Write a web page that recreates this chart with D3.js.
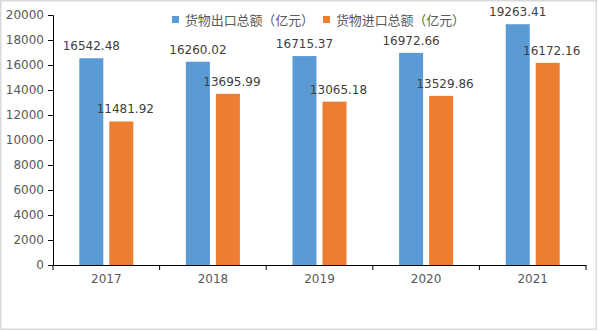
<!DOCTYPE html>
<html>
<head>
<meta charset="utf-8">
<style>
  body { margin: 0; background: #fff; }
  svg text { font-family: "DejaVu Sans", "Noto Sans CJK SC", sans-serif; }
  .axis .domain, .axis .tick line { stroke: #000; }
  .axis .tick text { fill: #595959; font-size: 12px; }
</style>
</head>
<body>
<div id="chart"></div>
<script src="https://d3js.org/d3.v7.min.js"></script>
<script>
var years = ["2017", "2018", "2019", "2020", "2021"];
var exportVals = [16542.48, 16260.02, 16715.37, 16972.66, 19263.41];
var importVals = [11481.92, 13695.99, 13065.18, 13529.86, 16172.16];
var seriesNames = ["货物出口总额（亿元）", "货物进口总额（亿元）"];
var colors = ["#5b9bd5", "#ed7d31"];
var yTicks = [0, 2000, 4000, 6000, 8000, 10000, 12000, 14000, 16000, 18000, 20000];

var W = 598, H = 331;
var svg = d3.select("#chart").append("svg").attr("width", W).attr("height", H);

// outer frame
svg.append("rect")
  .attr("x", 0.75).attr("y", 0.75).attr("width", 595.5).attr("height", 328.5)
  .attr("fill", "#fff").attr("stroke", "#d9d9d9").attr("stroke-width", 1.5);

var x0 = d3.scaleBand().domain(years).range([53, 586]);
var y = d3.scaleLinear().domain([0, 20000]).range([265, 15]);
var bw = x0.bandwidth();
var x1 = d3.scaleBand().domain([0, 1]).range([bw / 2 - 27, bw / 2 + 27]).paddingInner(0.2);

var data = years.map(function (yr, i) {
  return { year: yr, vals: [exportVals[i], importVals[i]] };
});

svg.append("g")
  .attr("class", "axis")
  .attr("transform", "translate(53,0)")
  .call(d3.axisLeft(y).tickValues(yTicks).tickSize(5).tickPadding(4).tickFormat(d3.format("d")));

var xAxis = svg.append("g")
  .attr("class", "axis")
  .attr("transform", "translate(0,265)")
  .call(d3.axisBottom(x0).tickSize(0).tickPadding(9));

// category boundary ticks
xAxis.selectAll(".bound")
  .data(d3.range(years.length + 1))
  .enter().append("line")
  .attr("x1", function (d) { return 53 + d * bw; })
  .attr("x2", function (d) { return 53 + d * bw; })
  .attr("y1", 0).attr("y2", 5)
  .attr("stroke", "#000");

var groups = svg.selectAll(".grp")
  .data(data)
  .enter().append("g")
  .attr("transform", function (d) { return "translate(" + x0(d.year) + ",0)"; });

groups.selectAll("rect")
  .data(function (d) { return d.vals.map(function (v, i) { return { v: v, s: i }; }); })
  .enter().append("rect")
  .attr("x", function (d) { return x1(d.s); })
  .attr("y", function (d) { return y(d.v); })
  .attr("width", x1.bandwidth())
  .attr("height", function (d) { return 265 - y(d.v); })
  .attr("fill", function (d) { return colors[d.s]; });

groups.selectAll("text.lbl")
  .data(function (d) { return d.vals.map(function (v, i) { return { v: v, s: i }; }); })
  .enter().append("text")
  .attr("class", "lbl")
  .attr("x", function (d) { return x1(d.s) + x1.bandwidth() / 2 + (d.s === 1 ? 4 : 0); })
  .attr("y", function (d) { return y(d.v) - 8; })
  .attr("text-anchor", "middle")
  .attr("fill", "#404040")
  .style("font-size", "12px")
  .text(function (d) { return d.v.toFixed(2); });

// legend: one fixed-width cell per character
var legX = [172, 323];
var cell = 12.9;
var leg = svg.selectAll(".leg")
  .data(seriesNames)
  .enter().append("g")
  .attr("transform", function (d, i) { return "translate(" + legX[i] + ",16)"; });
leg.append("rect").attr("width", 7).attr("height", 7)
  .attr("fill", function (d, i) { return colors[i]; });
leg.append("text").attr("y", 8.5)
  .attr("fill", "#595959").style("font-size", "13px")
  .style("font-family", "'Noto Sans CJK SC', sans-serif")
  .selectAll("tspan")
  .data(function (d) { return Array.from(d); })
  .enter().append("tspan")
  .attr("x", function (c, i) { return 13 + i * cell + cell / 2; })
  .attr("text-anchor", "middle")
  .text(function (c) { return c; });
</script>
</body>
</html>
